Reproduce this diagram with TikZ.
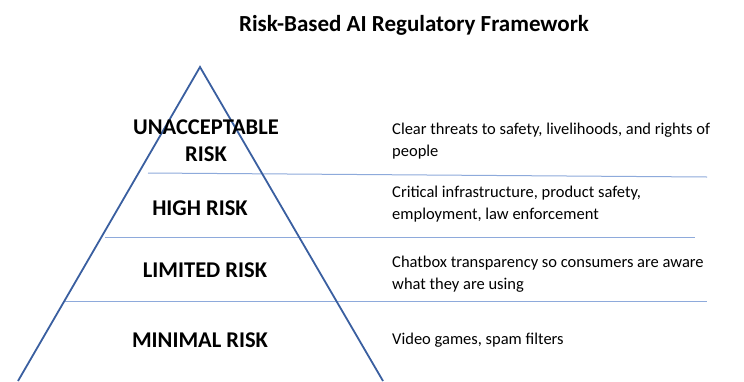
\documentclass[tikz,border=0pt]{standalone}
\usepackage{fontspec}
\setmainfont{Carlito}
\begin{document}
\begin{tikzpicture}[x=1pt,y=-1pt,
  tri/.style={draw=triblue,line width=1.8pt},
  sep/.style={draw=sepblue,line width=1pt},
  lvl/.style={font=\fontsize{22.5}{27}\selectfont\bfseries,align=center,inner sep=0pt},
  desc/.style={font=\fontsize{16.5}{22}\selectfont,align=left,anchor=west,inner sep=0pt},
  ttl/.style={font=\fontsize{23}{26}\selectfont\bfseries,inner sep=0pt}]
\definecolor{triblue}{HTML}{3A5FA0}
\definecolor{sepblue}{HTML}{8EAADB}
\path[use as bounding box] (0,0) rectangle (744,381);
\clip (0,0) rectangle (744,381);
\fill[white] (0,0) rectangle (744,381);
\node[ttl] (title) at (414,25) {Risk-Based AI Regulatory Framework};
% separators
\coordinate (s1a) at (148,173); \coordinate (s1b) at (707,177);
\coordinate (s2a) at (105,237.5); \coordinate (s2b) at (695,237.5);
\coordinate (s3a) at (64,301.5); \coordinate (s3b) at (707,301.5);
\draw[sep] (s1a) -- (s1b);
\draw[sep] (s2a) -- (s2b);
\draw[sep] (s3a) -- (s3b);
% triangle
\coordinate (apex) at (200,67);
\coordinate (bl) at (18,381);
\coordinate (br) at (383,381);
\draw[tri] (bl) -- (apex) -- (br);
% labels
\node[lvl] (u) at (206,141) {UNACCEPTABLE\\RISK};
\node[lvl] (h) at (200,208) {HIGH RISK};
\node[lvl] (l) at (205,270) {LIMITED RISK};
\node[lvl] (m) at (200,340) {MINIMAL RISK};
% descriptions
\node[desc] (du) at (392,141) {Clear threats to safety, livelihoods, and rights of\\people};
\node[desc] (dh) at (392,204.5) {Critical infrastructure, product safety,\\employment, law enforcement};
\node[desc] (dl) at (392,274.5) {Chatbox transparency so consumers are aware\\what they are using};
\node[desc] (dm) at (392,340) {Video games, spam filters};
\end{tikzpicture}
\end{document}
